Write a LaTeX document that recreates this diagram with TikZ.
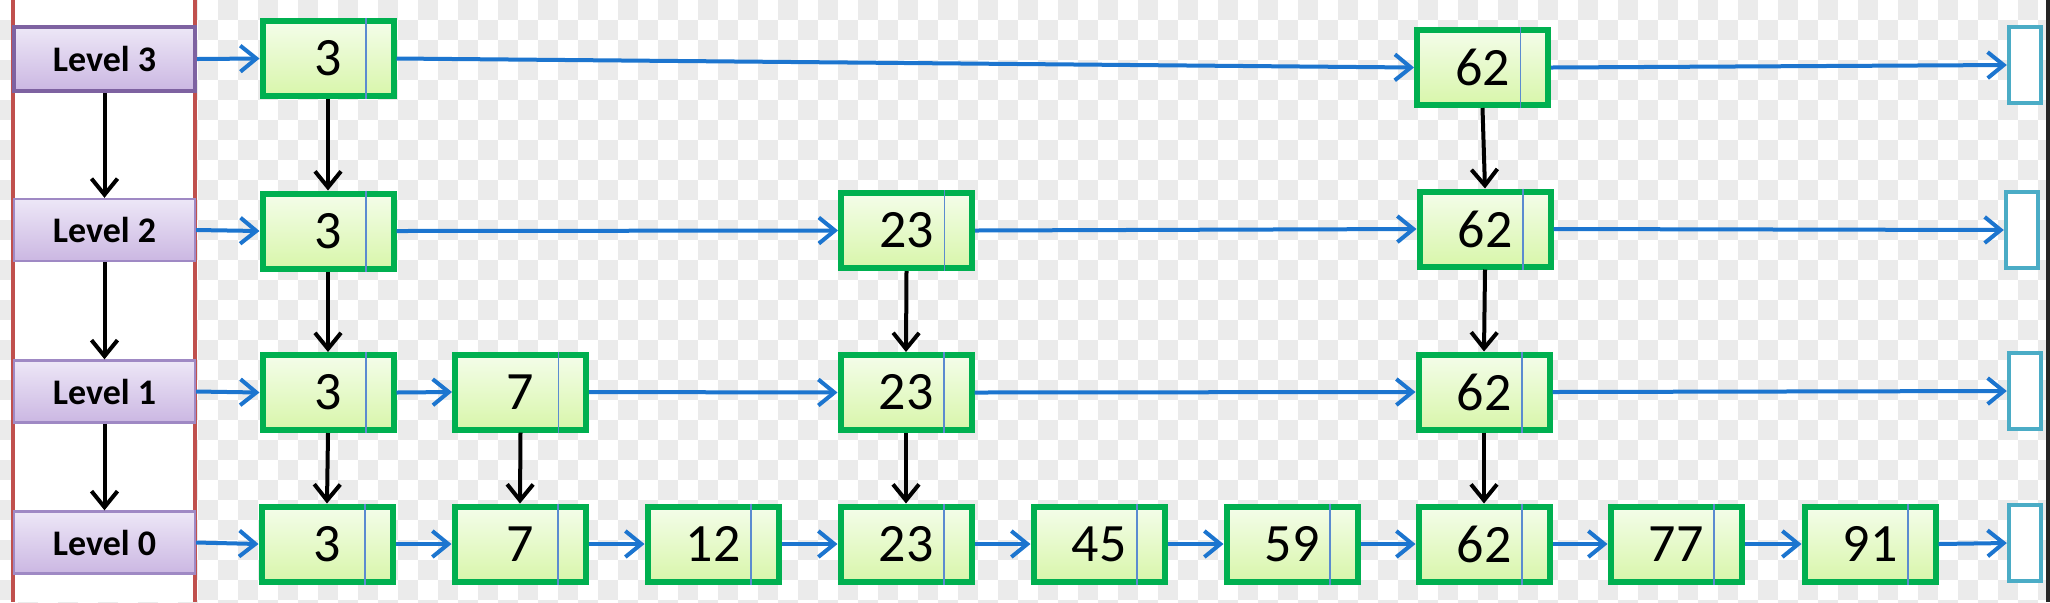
\documentclass[tikz,border=0pt]{standalone}
\usepackage{fontspec}
\setmainfont{Carlito}
\usetikzlibrary{arrows.meta}
\definecolor{checkgray}{HTML}{EBEBEB}
\definecolor{redline}{HTML}{C0504D}
\definecolor{nodegreen}{HTML}{00B050}
\definecolor{ntop}{HTML}{F4FDEA}
\definecolor{nbot}{HTML}{D8F6AA}
\definecolor{divblue}{HTML}{5B8BD0}
\definecolor{linkblue}{HTML}{1C75CF}
\definecolor{niblue}{HTML}{4BACC6}
\definecolor{ltop}{HTML}{EDE7F7}
\definecolor{lbot}{HTML}{CBB7E2}
\definecolor{lborder}{HTML}{9F89C4}
\definecolor{lborderdark}{HTML}{7E62A1}
\tikzset{
  cell/.style={draw=nodegreen, line width=3pt, minimum width=65.5pt, minimum height=37.5pt,
    inner sep=0pt, top color=ntop, bottom color=nbot, font=\fontsize{27}{27}\selectfont},
  divider/.style={draw=divblue, line width=0.8pt},
  lvl/.style={draw=lborder, line width=1.2pt, minimum width=90.5pt, minimum height=31pt,
    inner sep=0pt, top color=ltop, bottom color=lbot, font=\bfseries\fontsize{18}{18}\selectfont},
  lvltop/.style={lvl, draw=lborderdark, line width=2.2pt, minimum height=32pt},
  nilbox/.style={draw=niblue, line width=2.2pt, fill=white, minimum width=16pt, minimum height=38pt, inner sep=0pt},
  link/.style={draw=linkblue, line width=2pt, -{Straight Barb[length=8pt,width=13pt]}},
  downlink/.style={draw=black, line width=2pt, -{Straight Barb[length=8pt,width=13pt]}},
}
\newcommand\cellnode[3]{%
  \node[cell] (#1) at (#2) {#3};
  \draw[divider] ([xshift=19pt]#1.north) -- ([xshift=19pt]#1.south);}
\begin{document}
\begin{tikzpicture}[x=0.5pt,y=-0.5pt]
\useasboundingbox (0,0) rectangle (2050,602);
% checkerboard background
\fill[white] (0,0) rectangle (2050,602);
\foreach \i in {0,...,103}{%
  \foreach \j in {0,...,30}{%
    \pgfmathtruncatemacro\k{\i+\j}%
    \ifodd\k \fill[checkgray] (\i*20-2,\j*20) rectangle ++(20,20);\fi
  }}
\fill[white] (13,0) rectangle (195,602);
\draw[redline, line width=2pt] (13,0) -- (13,602);
\draw[redline, line width=2pt] (195,0) -- (195,602);
\fill[black!85] (2046,0) rectangle (2050,602);

% level boxes
\node[lvltop] (L3) at (104.5,59) {Level 3};
\node[lvl] (L2) at (104.5,230) {Level 2};
\node[lvl] (L1) at (104.5,391.5) {Level 1};
\node[lvl] (L0) at (104.5,542.5) {Level 0};

% row 3
\cellnode{a3}{328,58.5}{3}
\cellnode{a62}{1482.5,67.5}{62}
\node[nilbox] (anil) at (2025,65) {};
% row 2
\cellnode{b3}{328,231}{3}
\cellnode{b23}{906.5,230.5}{23}
\cellnode{b62}{1485,229}{62}
\node[nilbox] (bnil) at (2022,230) {};
% row 1
\cellnode{c3}{328,392.5}{3}
\cellnode{c7}{520.5,392}{7}
\cellnode{c23}{906,392.5}{23}
\cellnode{c62}{1484,392}{62}
\node[nilbox] (cnil) at (2025,391) {};
% row 0
\cellnode{d3}{327,544}{3}
\cellnode{d7}{520,544}{7}
\cellnode{d12}{713,544}{12}
\cellnode{d23}{906,544}{23}
\cellnode{d45}{1099,544}{45}
\cellnode{d59}{1292,544}{59}
\cellnode{d62}{1484,544}{62}
\cellnode{d77}{1676,544}{77}
\cellnode{d91}{1870,544}{91}
\node[nilbox] (dnil) at (2025,543) {};

% horizontal links
\draw[link] (L3.east) -- (a3.west);
\draw[link] (a3.east) -- (a62.west);
\draw[link] (a62.east) -- (anil.west);

\draw[link] (L2.east) -- (b3.west);
\draw[link] (b3.east) -- (b23.west);
\draw[link] (b23.east) -- (b62.west);
\draw[link] (b62.east) -- (bnil.west);

\draw[link] (L1.east) -- (c3.west);
\draw[link] (c3.east) -- (c7.west);
\draw[link] (c7.east) -- (c23.west);
\draw[link] (c23.east) -- (c62.west);
\draw[link] (c62.east) -- (cnil.west);

\draw[link] (L0.east) -- (d3.west);
\draw[link] (d3.east) -- (d7.west);
\draw[link] (d7.east) -- (d12.west);
\draw[link] (d12.east) -- (d23.west);
\draw[link] (d23.east) -- (d45.west);
\draw[link] (d45.east) -- (d59.west);
\draw[link] (d59.east) -- (d62.west);
\draw[link] (d62.east) -- (d77.west);
\draw[link] (d77.east) -- (d91.west);
\draw[link] (d91.east) -- (dnil.west);

% vertical links
\draw[downlink] (L3.south) -- (L2.north);
\draw[downlink] (L2.south) -- (L1.north);
\draw[downlink] (L1.south) -- (L0.north);

\draw[downlink] (a3.south) -- (b3.north);
\draw[downlink] (b3.south) -- (c3.north);
\draw[downlink] (c3.south) -- (d3.north);
\draw[downlink] (c7.south) -- (d7.north);
\draw[downlink] (b23.south) -- (c23.north);
\draw[downlink] (c23.south) -- (d23.north);
\draw[downlink] (a62.south) -- (b62.north);
\draw[downlink] (b62.south) -- (c62.north);
\draw[downlink] (c62.south) -- (d62.north);
\end{tikzpicture}
\end{document}
